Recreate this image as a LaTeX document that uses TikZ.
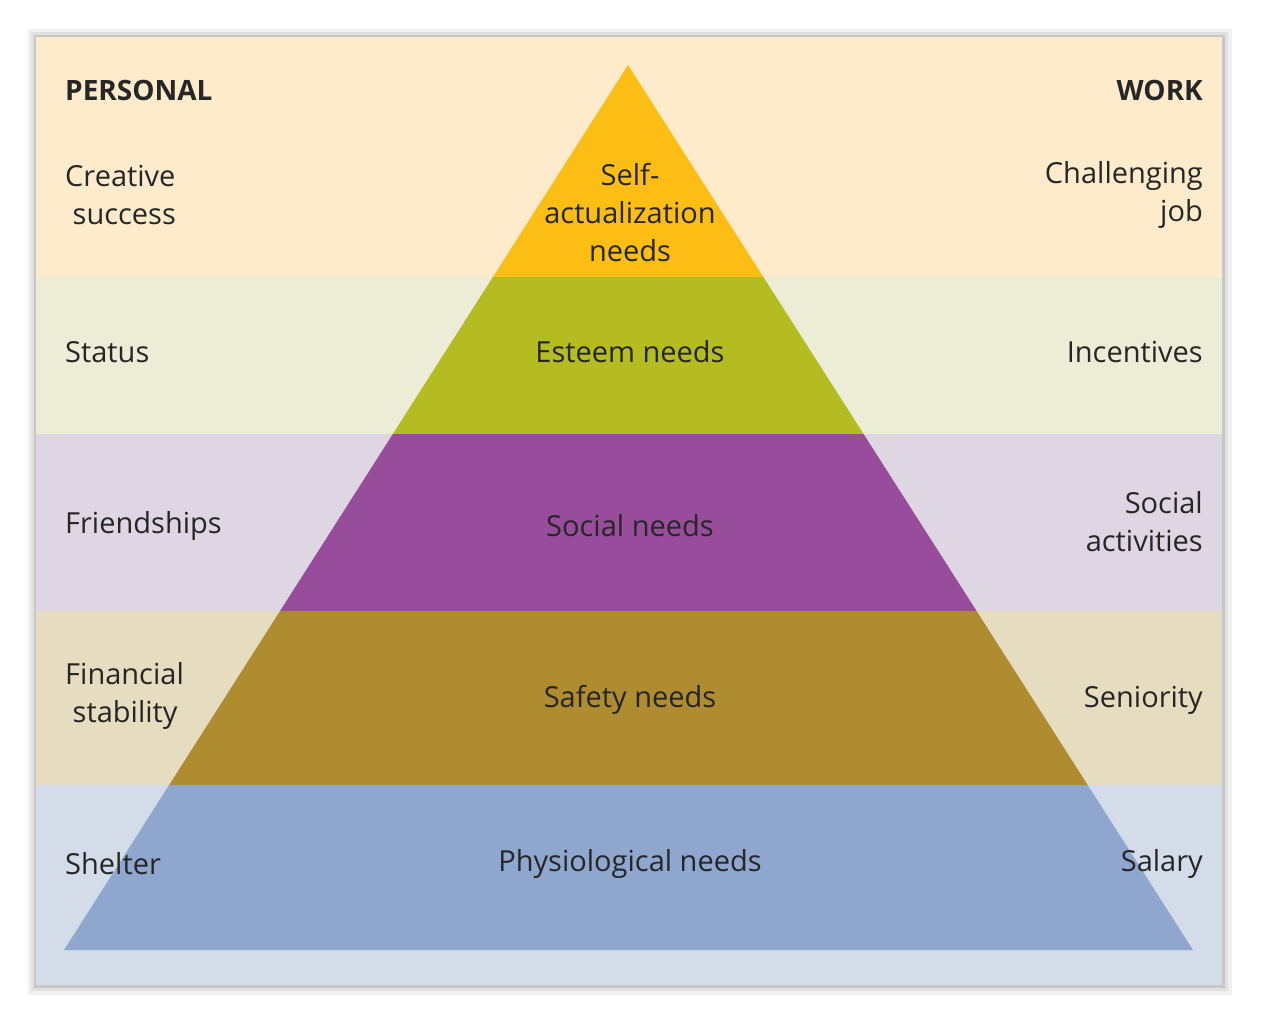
\documentclass[tikz,border=0pt]{standalone}
\usepackage{fontspec}
\setmainfont{Open Sans}
\begin{document}
\begin{tikzpicture}[x=1pt,y=-1pt,
  lbl/.style={font=\fontsize{29}{38}\selectfont,text=black!85,inner sep=0pt,align=center},
  hd/.style={font=\fontsize{28}{34}\selectfont\bfseries,text=black!85,inner sep=0pt}]
\useasboundingbox (0,0) rectangle (1261,1022);
\fill[black!6] (28,29) rectangle (1232,995);
\fill[black!12] (31,32) rectangle (1228,991);
\fill[black!22] (34,35) rectangle (1225,988);
% bands
\fill[fill={rgb,255:red,253;green,235;blue,203}] (36,37) rectangle (1222,277);
\fill[fill={rgb,255:red,235;green,237;blue,214}] (36,277) rectangle (1222,434);
\fill[fill={rgb,255:red,222;green,214;blue,227}] (36,434) rectangle (1222,611);
\fill[fill={rgb,255:red,230;green,220;blue,192}] (36,611) rectangle (1222,785);
\fill[fill={rgb,255:red,211;green,220;blue,232}] (36,785) rectangle (1222,985);
% pyramid
\coordinate (apex) at (628,65);
\coordinate (bl) at (64,950);
\coordinate (br) at (1193,950);
\begin{scope}
\clip (apex) -- (br) -- (bl) -- cycle;
\fill[fill={rgb,255:red,252;green,190;blue,20}] (0,0) rectangle (1261,277);
\fill[fill={rgb,255:red,180;green,188;blue,34}] (0,277) rectangle (1261,434);
\fill[fill={rgb,255:red,152;green,77;blue,156}] (0,434) rectangle (1261,611);
\fill[fill={rgb,255:red,176;green,140;blue,48}] (0,611) rectangle (1261,785);
\fill[fill={rgb,255:red,143;green,167;blue,206}] (0,785) rectangle (1261,1022);
\end{scope}
% center labels
\node[lbl] (l1) at (630,213) {Self-\\actualization\\needs};
\node[lbl] (l2) at (630,352) {Esteem needs};
\node[lbl] (l3) at (630,526) {Social needs};
\node[lbl] (l4) at (630,700) {Safety needs};
\node[lbl] (l5) at (630,864) {Physiological needs};
% left
\node[hd,anchor=west] (ph) at (65,90) {PERSONAL};
\node[lbl,anchor=west,align=left] (p1) at (65,195) {Creative\\\ success};
\node[lbl,anchor=west] (p2) at (65,352) {Status};
\node[lbl,anchor=west] (p3) at (65,526) {Friendships};
\node[lbl,anchor=west,align=left] (p4) at (65,696) {Financial\\\ stability};
\node[lbl,anchor=west] (p5) at (65,864) {Shelter};
% right
\node[hd,anchor=east] (wh) at (1203,90) {WORK};
\node[lbl,anchor=east,align=right] (w1) at (1203,195) {Challenging\\job};
\node[lbl,anchor=east] (w2) at (1203,352) {Incentives};
\node[lbl,anchor=east,align=right] (w3) at (1203,522) {Social\\activities};
\node[lbl,anchor=east] (w4) at (1203,700) {Seniority};
\node[lbl,anchor=east] (w5) at (1203,864) {Salary};
\end{tikzpicture}
\end{document}
